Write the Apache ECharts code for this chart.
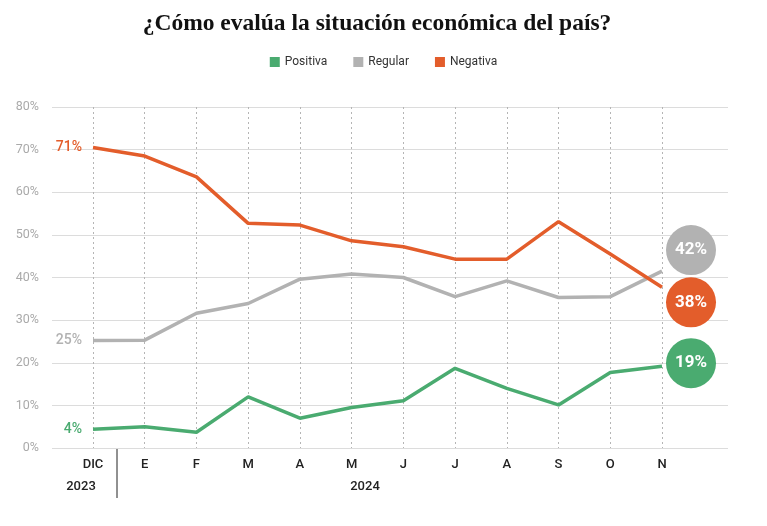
<!DOCTYPE html>
<html>
<head>
<meta charset="utf-8">
<script src="https://cdn.jsdelivr.net/npm/echarts@6/dist/echarts.min.js"></script>
<style>
html,body{margin:0;padding:0;background:#fff;}
#chart{width:767px;height:526px;}
</style>
</head>
<body>
<div id="chart"></div>
<script>
var months = ['DIC','E','F','M','A','M','J','J','A','S','O','N'];
var yTicks = [0,10,20,30,40,50,60,70,80];
var positiva = [4.4,5.0,3.7,12.0,7.0,9.5,11.1,18.7,14.0,10.1,17.7,19.2];
var regular  = [25.2,25.3,31.6,33.9,39.6,40.8,40.0,35.5,39.2,35.3,35.5,41.5];
var negativa = [70.5,68.5,63.6,52.7,52.3,48.6,47.2,44.3,44.3,53.1,45.5,37.7];
var years = ['2023','2024'];

var colors = {pos:'#4aab70', reg:'#b2b2b2', neg:'#e35d2b'};
var chart = echarts.init(document.getElementById('chart'));

function marks(data, color, endOffsetY){
  var last = data.length - 1;
  return {
    symbol:'circle',
    animation:false,
    data:[
      {coord:[0, data[0]], value:Math.round(data[0]), symbolSize:0,
       label:{show:true, position:'left', distance:11, color:color, fontSize:14, fontWeight:500,
              fontFamily:'Roboto', formatter:'{c}%'}},
      {coord:[last, data[last]], value:Math.round(data[last]), symbolSize:50,
       symbolOffset:[29, endOffsetY],
       itemStyle:{color:color},
       label:{show:true, position:'inside', color:'#fff', fontSize:17, fontWeight:'bold',
              fontFamily:'Roboto', formatter:'{c}%'}}
    ]
  };
}

function lineSeries(name, data, color, off){
  return {
    name:name, type:'line', xAxisIndex:1, yAxisIndex:1, data:data,
    showSymbol:false, symbol:'none', color:color,
    lineStyle:{width:3.5, color:color},
    markPoint:marks(data, color, off),
    z:3
  };
}

chart.setOption({
  animation:false,
  title:{
    text:'¿Cómo evalúa la situación económica del país?',
    left:372, textAlign:'center', top:7,
    textStyle:{fontFamily:'Liberation Serif', fontWeight:'bold', fontSize:23.5, color:'#111'}
  },
  legend:{
    top:51, left:'center', icon:'rect', itemWidth:10, itemHeight:10, itemGap:26,
    textStyle:{fontFamily:'Roboto', fontSize:12, color:'#333'},
    data:['Positiva','Regular','Negativa']
  },
  grid:[
    {left:52, right:39, top:107, bottom:78},
    {left:93, right:105, top:107, bottom:78}
  ],
  xAxis:[
    {gridIndex:0, type:'value', min:0, max:1, show:false},
    {gridIndex:1, type:'category', data:months, boundaryGap:false,
     axisLine:{show:false}, axisTick:{show:false},
     axisLabel:{margin:10, color:'#222', fontSize:13, fontWeight:500, fontFamily:'Roboto'},
     splitLine:{show:true, lineStyle:{type:[2,3], color:'#b5b5b5', width:1}}}
  ],
  yAxis:[
    {gridIndex:0, type:'value', min:yTicks[0], max:yTicks[yTicks.length-1], interval:10,
     axisLine:{show:false}, axisTick:{show:false},
     axisLabel:{formatter:'{value}%', color:'#aaa', fontSize:12.5, fontFamily:'Roboto', margin:13},
     splitLine:{lineStyle:{color:'#dcdcdc', width:1}}},
    {gridIndex:1, type:'value', min:yTicks[0], max:yTicks[yTicks.length-1], interval:10, show:false,
     splitLine:{show:false}}
  ],
  graphic:[
    {type:'line', shape:{x1:117, y1:448, x2:117, y2:498}, style:{stroke:'#222', lineWidth:1}},
    {type:'text', x:81, y:487, style:{text:years[0], fill:'#222', font:'500 13px Roboto', align:'center', verticalAlign:'middle'}},
    {type:'text', x:365, y:487, style:{text:years[1], fill:'#222', font:'500 13px Roboto', align:'center', verticalAlign:'middle'}}
  ],
  series:[
    lineSeries('Positiva', positiva, colors.pos, -3),
    lineSeries('Regular', regular, colors.reg, -21),
    lineSeries('Negativa', negativa, colors.neg, 15)
  ]
});
</script>
</body>
</html>
